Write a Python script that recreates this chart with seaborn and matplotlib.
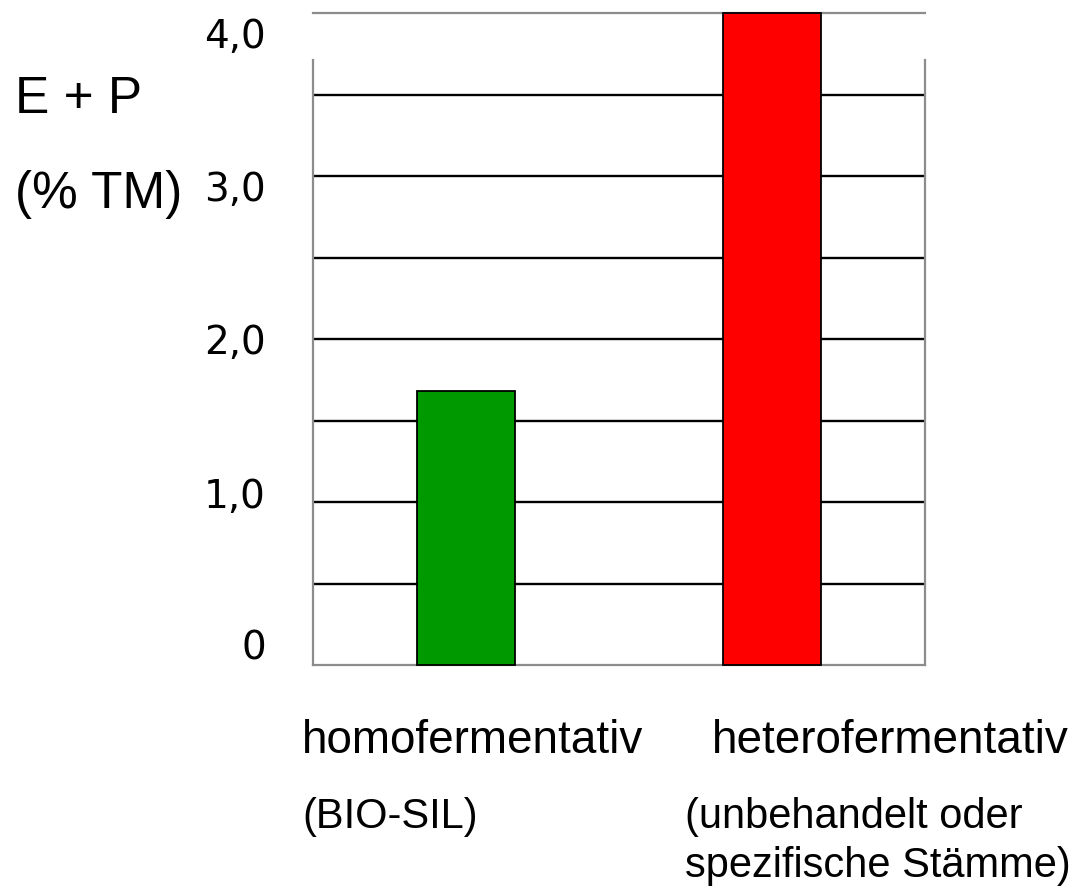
import matplotlib
matplotlib.use("Agg")
import matplotlib.pyplot as plt
import matplotlib.transforms as mtransforms
import seaborn as sns

# Ethanol + propanol content (% of dry matter) by fermentation type
categories = ["homofermentativ", "heterofermentativ"]
subtitles = ["(BIO-SIL)", "(unbehandelt oder\nspezifische Stämme)"]
values = [1.68, 4.0]
bar_colors = ["#009900", "#ff0000"]

y_ticks = [0, 1, 2, 3, 4]
y_tick_labels = ["0", "1,0", "2,0", "3,0", "4,0"]
grid_levels = [0.5, 1.0, 1.5, 2.0, 2.5, 3.0, 3.5]

sns.set_style("white")
plt.rcParams["font.family"] = ["Liberation Sans", "DejaVu Sans"]
plt.rcParams["text.color"] = "black"
plt.rcParams["ytick.labelcolor"] = "black"

W, H = 1085, 890
fig = plt.figure(figsize=(W / 100, H / 100), dpi=100)
ax = fig.add_axes([313 / W, 1 - 665 / H, 612 / W, 652 / H])

# Horizontal guide lines behind the bars
ax.hlines(grid_levels, -0.5, 1.5, colors="black", linewidth=1.7, zorder=0.5)

sns.barplot(
    x=categories, y=values, hue=categories, palette=bar_colors,
    legend=False, width=0.32, saturation=1,
    edgecolor="black", linewidth=1.3, ax=ax,
)
for bar in ax.patches:
    bar.set_zorder(3)
    bar.set_clip_on(False)

ax.set_xlim(-0.5, 1.5)
ax.set_ylim(0, 4.0)
ax.set_xticks([])
ax.set_xlabel("")
ax.set_ylabel("")

ax.set_yticks(y_ticks)
ax.set_yticklabels(y_tick_labels, fontsize=28, family="DejaVu Sans")
ax.tick_params(axis="y", length=0, pad=34)

# The value labels sit in an evenly spaced column slightly tighter than the grid
label_shift_px = [20, 9, 0, -10, -20]
for lbl, dy in zip(ax.get_yticklabels(), label_shift_px):
    lbl.set_transform(lbl.get_transform() +
                      mtransforms.ScaledTranslation(0, dy / 100, fig.dpi_scale_trans))

frame_color = "#8c8c8c"
for side in ["left", "right", "top", "bottom"]:
    ax.spines[side].set_visible(True)
    ax.spines[side].set_color(frame_color)
    ax.spines[side].set_linewidth(1.6)
ax.spines["left"].set_bounds(0, 3.71)
ax.spines["right"].set_bounds(0, 3.71)

# Axis title, upper left
fig.text(15 / W, 1 - 113 / H, "E + P", fontsize=37, va="baseline", ha="left")
fig.text(15 / W, 1 - 208 / H, "(% TM)", fontsize=37, va="baseline", ha="left")

# Category names and their notes below the plot
cat_x = [302, 712]
sub_x = [302, 685]
for name, note, cx, sx in zip(categories, subtitles, cat_x, sub_x):
    fig.text(cx / W, 1 - 753 / H, name, fontsize=33, va="baseline", ha="left")
    for i, line in enumerate(note.split("\n")):
        fig.text(sx / W, 1 - (828 + 49 * i) / H, line, fontsize=30,
                 va="baseline", ha="left")

fig.savefig("out.png", dpi=100, facecolor="white")
